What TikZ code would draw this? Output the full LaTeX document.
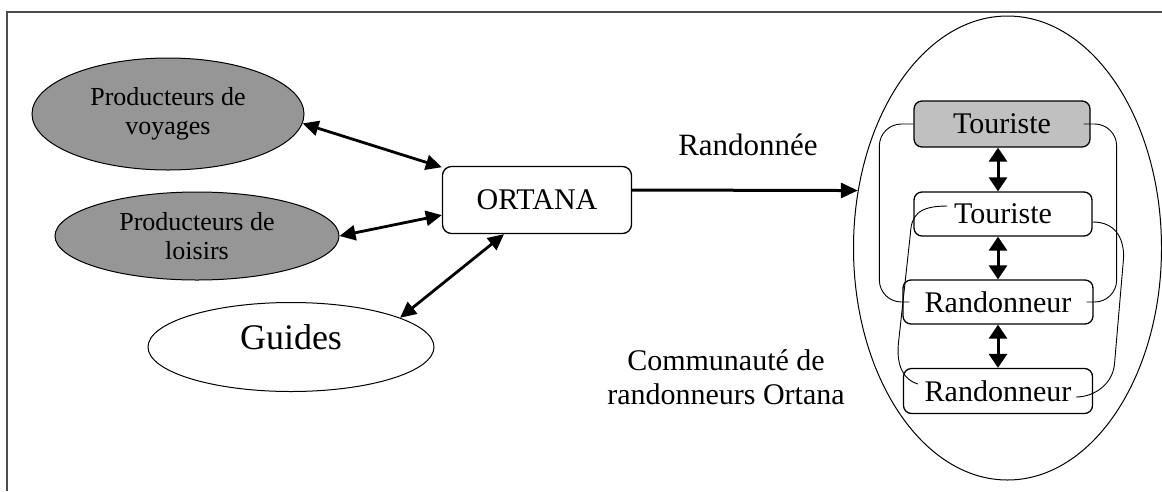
\documentclass[tikz,border=0pt]{standalone}
\usepackage{fontspec}
\setmainfont{Liberation Serif}
\usetikzlibrary{arrows.meta,shapes.geometric}
\definecolor{prodgray}{RGB}{150,150,150}
\definecolor{tourgray}{RGB}{192,192,192}
\begin{document}
\begin{tikzpicture}[x=1pt,y=-1pt,
    prod/.style={ellipse,draw,line width=1pt,fill=prodgray,align=center,inner sep=0pt,
        font=\fontsize{26}{29}\selectfont},
    member/.style={draw,line width=1.3pt,rounded corners=8pt,minimum height=45pt,
        inner sep=0pt,font=\fontsize{30}{34}\selectfont},
    link/.style={{Triangle[length=16pt,width=15pt]}-{Triangle[length=16pt,width=15pt]},line width=2.8pt},
    vlink/.style={{Triangle[length=14pt,width=18pt]}-{Triangle[length=14pt,width=18pt]},line width=3pt},
    grp/.style={line width=0.9pt,rounded corners=22pt}]
        \useasboundingbox (0,0) rectangle (1162,491);
        \draw[line width=2pt,black!70] (7,491) -- (7,12) -- (1162,12);

        \node[prod,minimum width=272pt,minimum height=112pt] (voy) at (168,114) {Producteurs de\\voyages};
        \node[prod,minimum width=284pt,minimum height=88pt] (loi) at (197,236) {Producteurs de\\loisirs};
        \node[ellipse,draw,line width=1pt,minimum width=286pt,minimum height=89pt,inner sep=0pt,
            text depth=20pt,font=\fontsize{36}{40}\selectfont] (gui) at (291,347) {Guides};

        \node[draw,line width=1.3pt,rounded corners=9pt,minimum width=189pt,minimum height=67pt,
            font=\fontsize{30}{34}\selectfont] (ort) at (537,200) {ORTANA};

        \node[ellipse,draw,line width=1pt,minimum width=308pt,minimum height=464pt] (comm) at (1007.5,248) {};
        \node[member,fill=tourgray,minimum width=176pt,minimum height=46pt] (t1) at (1002,124) {Touriste};
        \node[member,fill=white,minimum width=178pt,minimum height=44pt] (t2) at (1003,214) {Touriste};
        \node[member,fill=white,minimum width=190pt,minimum height=44pt] (r1) at (998,302) {Randonneur};
        \node[member,fill=white,minimum width=189pt] (r2) at (998,391) {Randonneur};

        \node[font=\fontsize{31}{34}\selectfont] (randlab) at (748,145) {Randonnée};
        \node[align=center,font=\fontsize{30}{34}\selectfont] (commlab) at (726,377) {Communauté de\\randonneurs Ortana};

        \draw[link] (voy.-4) -- (ort.161);
        \draw[link] (loi.east) -- (ort.189);
        \draw[link] (gui.15) -- (ort.226);
        \draw[-{Triangle[length=17pt,width=15pt]},line width=3pt] (ort.6) -- (comm.159);

        \draw[vlink] (t1.south -| r1.north) -- (t2.north -| r1.north);
        \draw[vlink] (t2.south -| r1.north) -- (r1.north);
        \draw[vlink] (r1.south) -- (r2.north);

        \draw[grp] (t1.west) -- ++(-34,0) |- ([xshift=7pt]r1.west);
        \draw[grp] ([xshift=-7pt]t1.east) -- ++(33,0) |- ([xshift=-7pt]r1.east);
        \draw[line width=0.9pt] ([xshift=34pt,yshift=8pt]t2.west) .. controls +(-30,0) and +(1,-18) .. ++(-37,28)
            -- ++(-12,110) .. controls +(-2,22) and +(-14,-4) .. ([xshift=15pt,yshift=7pt]r2.west);
        \draw[line width=0.9pt] ([yshift=-8pt]t2.east) .. controls +(22,0) and +(0,-20) .. ++(31,35)
            -- ++(-9,105) .. controls +(-1,22) and +(18,0) .. ([xshift=-17pt,yshift=-6pt]r2.east);
    \end{tikzpicture}
\end{document}
